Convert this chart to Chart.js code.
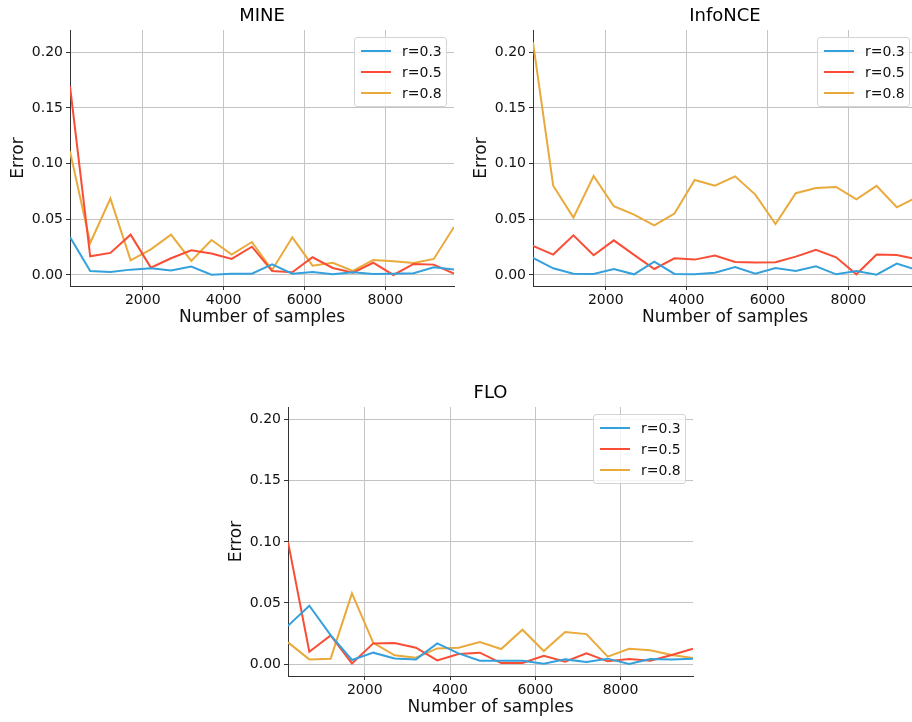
<!DOCTYPE html>
<html>
<head>
<meta charset="utf-8">
<script src="https://cdn.jsdelivr.net/npm/chart.js@4.4.0/dist/chart.umd.min.js"></script>
<style>
  html, body { margin: 0; padding: 0; background: #fff; overflow: hidden; }
  body { width: 912px; height: 722px; position: relative; font-family: 'DejaVu Sans', sans-serif; }
  .panel { position: absolute; }
  .legend { position: absolute; box-sizing: border-box; background: rgba(255,255,255,0.8);
            border: 1px solid #d4d4d4; border-radius: 3px; padding: 2px 4px 3px 6px;
            font-size: 14px; color: #111; }
  .legend .row { display: flex; align-items: center; height: 21px; white-space: nowrap; }
  .legend .swatch { width: 30px; height: 2px; margin-right: 11px; }
</style>
</head>
<body>
<canvas id="mine" class="panel" width="460" height="330" style="left:0px;top:0px"></canvas>
<canvas id="infonce" class="panel" width="460" height="330" style="left:463px;top:0px"></canvas>
<canvas id="flo" class="panel" width="481" height="343" style="left:218px;top:377px"></canvas>

<script>
// sample sizes on the x axis
const samples = [200, 700, 1200, 1700, 2200, 2700, 3200, 3700, 4200, 4700,
                 5200, 5700, 6200, 6700, 7200, 7700, 8200, 8700, 9200, 9700];

const seriesLabels = ['r=0.3', 'r=0.5', 'r=0.8'];
const seriesColors = ['#35a1dc', '#f94d35', '#e9aa3b'];

const xTicks = [2000, 4000, 6000, 8000];
const yTicks = [0, 0.05, 0.10, 0.15, 0.20];

// MINE
const mineR03 = [0.034, 0.0036, 0.0027, 0.0048, 0.006, 0.004, 0.0075, 0.0003, 0.0012, 0.0012,
                 0.0096, 0.0012, 0.0027, 0.0006, 0.0024, 0.0009, 0.0012, 0.0015, 0.0069, 0.005];
const mineR05 = [0.1695, 0.0168, 0.0198, 0.0362, 0.0066, 0.015, 0.0222, 0.0192, 0.0144, 0.0254,
                 0.0036, 0.0024, 0.0159, 0.0063, 0.0021, 0.011, 0.0, 0.0099, 0.0093, 0.0012];
const mineR08 = [0.111, 0.0287, 0.0686, 0.0132, 0.023, 0.0362, 0.0126, 0.0314, 0.0183, 0.0296,
                 0.0045, 0.0338, 0.0084, 0.011, 0.0036, 0.0135, 0.0123, 0.0108, 0.0144, 0.0431];

// InfoNCE
const infoR03 = [0.0153, 0.006, 0.0012, 0.0009, 0.0054, 0.0006, 0.012, 0.0009, 0.0006, 0.0021,
                 0.0072, 0.0012, 0.0063, 0.0036, 0.0078, 0.0006, 0.0036, 0.0003, 0.0102, 0.0045];
const infoR05 = [0.026, 0.0183, 0.0356, 0.0177, 0.0311, 0.018, 0.0054, 0.015, 0.0138, 0.0174,
                 0.0117, 0.0111, 0.0114, 0.0165, 0.0225, 0.0159, 0.0006, 0.0183, 0.018, 0.014];
const infoR08 = [0.209, 0.0802, 0.0515, 0.0889, 0.0617, 0.0542, 0.0446, 0.0551, 0.0853, 0.0802,
                 0.0886, 0.0722, 0.0458, 0.0734, 0.0781, 0.079, 0.068, 0.080, 0.0608, 0.070];

// FLO
const floR03 = [0.0313, 0.0477, 0.0237, 0.0033, 0.0093, 0.0046, 0.0038, 0.0169, 0.0087, 0.0027,
                0.0027, 0.0027, 0.0003, 0.0038, 0.0016, 0.0044, 0.0, 0.0041, 0.0038, 0.0044];
const floR05 = [0.1, 0.0101, 0.0234, 0.0005, 0.0169, 0.0172, 0.0134, 0.003, 0.0082, 0.0093,
                0.0008, 0.0008, 0.0068, 0.0019, 0.0087, 0.0022, 0.0041, 0.0027, 0.0074, 0.0125];
const floR08 = [0.0177, 0.0038, 0.0044, 0.0578, 0.0174, 0.0071, 0.0052, 0.0128, 0.0134, 0.018,
                0.0123, 0.0281, 0.0106, 0.0262, 0.0245, 0.006, 0.0125, 0.0112, 0.0074, 0.0049];

const FONT = "'DejaVu Sans', sans-serif";
const TEXT = '#111';

function makePanel(id, title, series, yMin, yMax) {
  const canvas = document.getElementById(id);
  const chart = new Chart(canvas, {
    type: 'line',
    data: {
      datasets: series.map((s, i) => ({
        label: seriesLabels[i],
        data: samples.map((x, j) => ({ x: x, y: s[j] })),
        borderColor: seriesColors[i],
        borderWidth: 2,
        pointRadius: 0,
        tension: 0,
        fill: false
      }))
    },
    options: {
      responsive: false,
      animation: false,
      layout: { padding: { top: 0, right: 6, bottom: 0, left: 0 } },
      plugins: {
        legend: { display: false },
        tooltip: { enabled: false },
        title: {
          display: true,
          text: title,
          fullSize: false,
          color: '#000',
          font: { family: FONT, size: 18, weight: 'normal' },
          padding: { top: 6, bottom: 2.4 }
        }
      },
      scales: {
        x: {
          type: 'linear',
          min: 200,
          max: 9700,
          afterBuildTicks: s => { s.ticks = xTicks.map(v => ({ value: v })); },
          afterFit: s => { s.height = 44; },
          grid: { color: '#c4c4c4', lineWidth: 1, tickLength: 4, tickColor: '#333' },
          border: { display: true, color: '#333', width: 1 },
          ticks: {
            color: TEXT, padding: 2, maxRotation: 0,
            font: { family: FONT, size: 14 },
            callback: v => String(v)
          },
          title: {
            display: true, text: 'Number of samples', color: TEXT,
            font: { family: FONT, size: 17 },
            padding: { top: 0, bottom: 1.8 }
          }
        },
        y: {
          min: yMin,
          max: yMax,
          afterBuildTicks: s => { s.ticks = yTicks.map(v => ({ value: v })); },
          afterFit: s => { s.width = 70; },
          grid: { color: '#c4c4c4', lineWidth: 1, tickLength: 4, tickColor: '#333' },
          border: { display: true, color: '#333', width: 1 },
          ticks: {
            color: TEXT, padding: 3,
            font: { family: FONT, size: 14 },
            callback: v => v.toFixed(2)
          },
          title: {
            display: true, text: 'Error', color: TEXT,
            font: { family: FONT, size: 17 },
            padding: { top: 8, bottom: 0 }
          }
        }
      }
    }
  });

  // legend inside the upper right corner of the plot area
  const legend = document.createElement('div');
  legend.className = 'legend';
  chart.data.datasets.forEach(ds => {
    const row = document.createElement('div');
    row.className = 'row';
    const sw = document.createElement('span');
    sw.className = 'swatch';
    sw.style.background = ds.borderColor;
    const txt = document.createElement('span');
    txt.textContent = ds.label;
    row.appendChild(sw);
    row.appendChild(txt);
    legend.appendChild(row);
  });
  document.body.appendChild(legend);
  const area = chart.chartArea;
  const left = parseFloat(canvas.style.left);
  const top = parseFloat(canvas.style.top);
  legend.style.left = (left + area.right - 7 - legend.offsetWidth) + 'px';
  legend.style.top = (top + area.top + 7) + 'px';
  return chart;
}

makePanel('mine', 'MINE', [mineR03, mineR05, mineR08], -0.0099, 0.22);
makePanel('infonce', 'InfoNCE', [infoR03, infoR05, infoR08], -0.0099, 0.22);
makePanel('flo', 'FLO', [floR03, floR05, floR08], -0.0098, 0.2104);
</script>
</body>
</html>
